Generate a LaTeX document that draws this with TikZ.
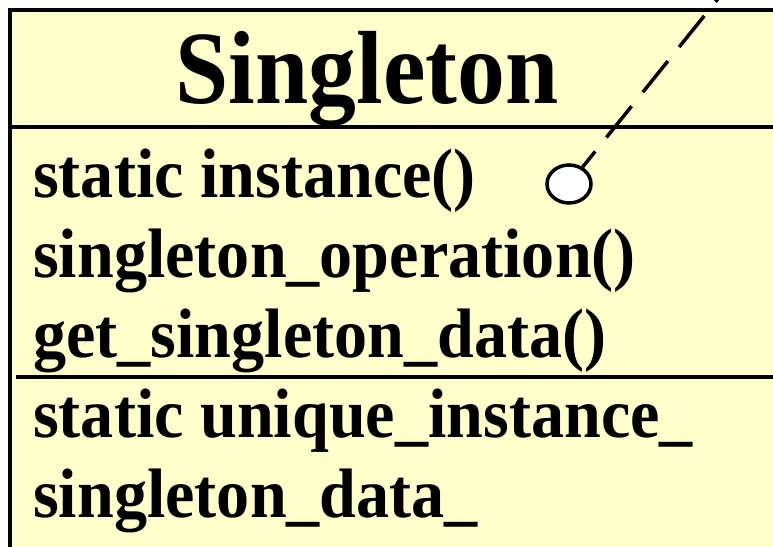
\documentclass[tikz,border=0pt]{standalone}
\usepackage{fontspec}
\setmainfont{Liberation Serif}
\usetikzlibrary{shapes.geometric}
\definecolor{boxyellow}{RGB}{255,255,204}
\tikzset{
  rule/.style={line width=4.5pt, line cap=butt},
  member/.style={anchor=base west, inner sep=0pt, font=\bfseries\fontsize{70}{84}\selectfont, xscale=0.945},
  titletext/.style={anchor=base, inner sep=0pt, font=\bfseries\fontsize{104}{124}\selectfont, xscale=0.92},
  lollipop/.style={ellipse, draw, line width=3.5pt, fill=white, minimum width=44pt, minimum height=38pt, inner sep=0pt},
  dependency/.style={line width=3.5pt, dash pattern=on 40pt off 18pt, dash phase=20pt}
}
\begin{document}
\begin{tikzpicture}[x=1pt,y=-1pt]
\useasboundingbox (0,0) rectangle (773,546);
\fill[white] (0,0) rectangle (773,546);
\fill[boxyellow] (10,10) rectangle (780,550);
% borders
\draw[rule] (10,8) -- (10,550);
\draw[rule] (8,10) -- (780,10);
\draw[rule] (12,127) -- (780,127);
\draw[rule] (16,377) -- (780,377);
% texts
\node[titletext] (title) at (367,103) {Singleton};
\node[member] (op1) at (33,197) {static instance()};
\node[member] (op2) at (33,277) {singleton\_operation()};
\node[member] (op3) at (33,357) {get\_singleton\_data()};
\node[member] (at1) at (33,437) {static unique\_instance\_};
\node[member] (at2) at (33,517) {singleton\_data\_};
% lollipop
\node[lollipop] (circ) at (569,184) {};
\coordinate (topend) at (721,-5);
\draw[dependency] (circ) -- (topend);
\end{tikzpicture}
\end{document}
